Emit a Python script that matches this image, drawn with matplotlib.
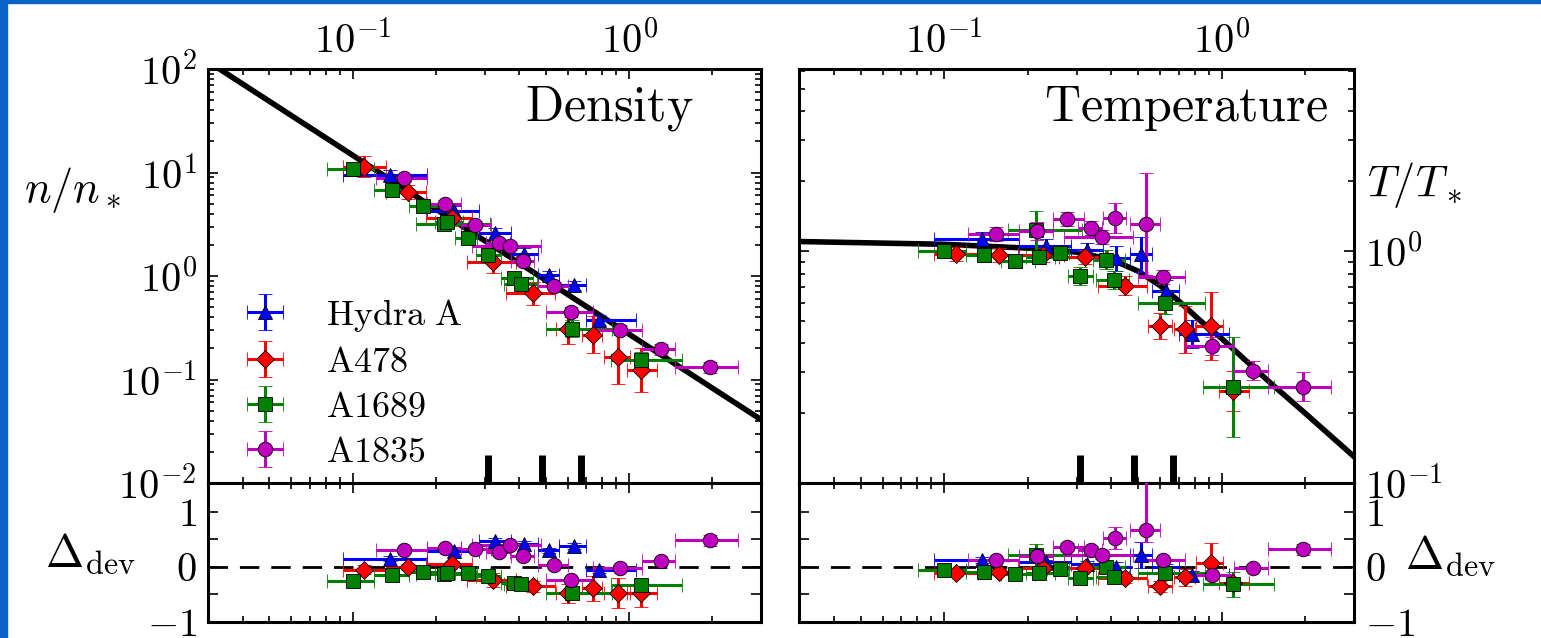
import matplotlib
matplotlib.use('Agg')
import matplotlib.pyplot as plt
import numpy as np
from matplotlib.ticker import FixedLocator, FuncFormatter, NullFormatter
from matplotlib.patches import Rectangle

plt.rcParams['mathtext.fontset'] = 'cm'
plt.rcParams['font.family'] = 'DejaVu Serif'
plt.rcParams['axes.linewidth'] = 2.2

# ---- data ----
# Hydra A (blue triangles)
hyd_x = [0.137, 0.233, 0.327, 0.418, 0.513, 0.63, 0.78]
hyd_lo = [0.092, 0.186, 0.287, 0.374, 0.468, 0.56, 0.70]
hyd_hi = [0.186, 0.287, 0.374, 0.468, 0.56, 0.70, 1.06]
hyd_n = [9.5, 4.2, 2.58, 1.62, 1.02, 0.81, 0.376]
hyd_n_dex = [0.05, 0.05, 0.05, 0.06, 0.04, 0.04, 0.05]
hyd_T = [1.13, 1.05, 1.01, 0.93, 0.97, 0.67, 0.44]
hyd_T_dex = [0.03, 0.03, 0.03, 0.054, 0.075, 0.05, 0.06]
hyd_dn = [0.15, 0.29, 0.47, 0.42, 0.30, 0.38, -0.06]
hyd_dn_err = [0.05, 0.05, 0.05, 0.05, 0.05, 0.05, 0.05]
hyd_dT = [0.12, 0.08, 0.06, 0.0, 0.21, 0.0, -0.15]
hyd_dT_err = [0.05, 0.05, 0.05, 0.08, 0.24, 0.06, 0.08]

# A478 (red diamonds)
a478_x = [0.11, 0.158, 0.228, 0.321, 0.45, 0.60, 0.74, 0.915, 1.10]
a478_lo = [0.092, 0.132, 0.185, 0.26, 0.36, 0.545, 0.675, 0.81, 0.98]
a478_hi = [0.132, 0.185, 0.27, 0.39, 0.54, 0.66, 0.80, 1.01, 1.26]
a478_n = [11.4, 6.5, 3.6, 1.37, 0.68, 0.31, 0.27, 0.166, 0.124]
a478_n_dex = [0.1, 0.07, 0.07, 0.11, 0.11, 0.15, 0.18, 0.26, 0.21]
a478_T = [0.975, 0.96, 0.96, 0.94, 0.71, 0.475, 0.46, 0.475, 0.25]
a478_T_dex = [0.03, 0.03, 0.03, 0.03, 0.04, 0.057, 0.1, 0.145, 0.086]
a478_dn = [-0.05, 0.0, 0.05, -0.24, -0.35, -0.48, -0.39, -0.47, -0.48]
a478_dn_err = [0.08, 0.06, 0.06, 0.12, 0.1, 0.17, 0.23, 0.27, 0.24]
a478_dT = [-0.12, -0.09, -0.03, -0.03, -0.21, -0.35, -0.19, 0.07, -0.3]
a478_dT_err = [0.05, 0.05, 0.05, 0.05, 0.08, 0.1, 0.15, 0.36, 0.1]

# A1689 (green squares)
a1689_x = [0.1, 0.139, 0.18, 0.215, 0.22, 0.261, 0.31, 0.383, 0.408, 0.623, 1.10]
a1689_lo = [0.0805, 0.12, 0.16, 0.17, 0.198, 0.234, 0.279, 0.343, 0.354, 0.5, 0.86]
a1689_hi = [0.12, 0.16, 0.213, 0.315, 0.25, 0.283, 0.343, 0.45, 0.465, 0.87, 1.55]
a1689_n = [10.7, 6.8, 4.7, 3.2, 3.35, 2.35, 1.6, 0.95, 0.84, 0.31, 0.155]
a1689_n_dex = [0.04, 0.04, 0.04, 0.05, 0.04, 0.04, 0.05, 0.05, 0.05, 0.08, 0.08]
a1689_T = [1.0, 0.96, 0.91, 1.23, 0.94, 0.98, 0.78, 0.92, 0.75, 0.6, 0.26]
a1689_T_dex = [0.03, 0.03, 0.03, 0.085, 0.03, 0.03, 0.04, 0.04, 0.04, 0.05, 0.215]
a1689_dn = [-0.26, -0.15, -0.09, -0.13, -0.11, -0.12, -0.17, -0.29, -0.32, -0.47, -0.33]
a1689_dn_err = [0.05, 0.05, 0.05, 0.05, 0.05, 0.05, 0.05, 0.05, 0.05, 0.08, 0.1]
a1689_dT = [-0.06, -0.09, -0.13, 0.21, -0.12, -0.04, -0.21, 0.0, -0.19, -0.12, -0.32]
a1689_dT_err = [0.05, 0.05, 0.05, 0.2, 0.05, 0.05, 0.05, 0.06, 0.06, 0.08, 0.23]

# A1835 (magenta circles)
a1835_x = [0.154, 0.216, 0.277, 0.339, 0.37, 0.412, 0.533, 0.615, 0.925, 1.30, 1.97]
a1835_lo = [0.122, 0.186, 0.246, 0.305, 0.27, 0.374, 0.468, 0.50, 0.74, 1.11, 1.47]
a1835_hi = [0.186, 0.246, 0.318, 0.37, 0.48, 0.454, 0.60, 0.74, 1.11, 1.47, 2.48]
a1835_n = [8.8, 5.0, 3.1, 2.1, 1.95, 1.41, 0.8, 0.45, 0.30, 0.195, 0.131]
a1835_n_dex = [0.04, 0.04, 0.04, 0.04, 0.04, 0.04, 0.04, 0.05, 0.05, 0.05, 0.05]
a1835_T = [1.18, 1.22, 1.38, 1.26, 1.15, 1.39, 1.31, 0.77, 0.39, 0.305, 0.26]
a1835_T_dex = [0.03, 0.04, 0.03, 0.03, 0.03, 0.066, 0.22, 0.03, 0.04, 0.04, 0.063]
a1835_dn = [0.30, 0.35, 0.33, 0.27, 0.39, 0.19, 0.04, -0.24, -0.02, 0.10, 0.48]
a1835_dn_err = [0.05, 0.05, 0.05, 0.05, 0.05, 0.05, 0.05, 0.05, 0.05, 0.05, 0.1]
a1835_dT = [0.13, 0.19, 0.36, 0.30, 0.21, 0.52, 0.67, 0.12, -0.15, -0.02, 0.32]
a1835_dT_lo = [0.05, 0.08, 0.07, 0.08, 0.07, 0.2, 0.22, 0.06, 0.06, 0.06, 0.1]
a1835_dT_hi = [0.05, 0.08, 0.07, 0.08, 0.07, 0.2, 1.0, 0.06, 0.06, 0.06, 0.1]

# model curves
n_fit_x = [0.03, 3.0]
n_fit_y = [118, 0.041]
T_fit_x = [0.03, 0.1, 0.2, 0.3, 0.4, 0.5, 0.6, 0.7, 0.84, 1.0, 1.5, 2.0, 3.0]
T_fit_y = [1.10, 1.07, 1.03, 0.99, 0.92, 0.82, 0.71, 0.61, 0.50, 0.42, 0.27, 0.20, 0.13]

# radius markers at the bottom of the top panels
r_marks = [0.31, 0.485, 0.67]

W, H = 1541, 638
fig = plt.figure(figsize=(W / 100, H / 100), dpi=100)

# slide background strips
fig.patches.append(Rectangle((0, 1 - 3 / H), 1, 3 / H, transform=fig.transFigure,
                             color='#0a64c8', zorder=0))
fig.patches.append(Rectangle((0, 0), 7 / W, 1, transform=fig.transFigure,
                             color='#0a64c8', zorder=0))

axL = fig.add_axes([208 / W, 1 - 483 / H, 553 / W, 414 / H])
axLr = fig.add_axes([208 / W, 1 - 622 / H, 553 / W, 139 / H])
axR = fig.add_axes([799 / W, 1 - 483 / H, 555 / W, 414 / H])
axRr = fig.add_axes([799 / W, 1 - 622 / H, 555 / W, 139 / H])

series = [
    ('Hydra\\ A', 'b', '^', 10, hyd_x, hyd_lo, hyd_hi, hyd_n, hyd_n_dex, hyd_T, hyd_T_dex,
     hyd_dn, hyd_dn_err, hyd_dT, [hyd_dT_err, hyd_dT_err]),
    ('A478', 'r', 'D', 9.5, a478_x, a478_lo, a478_hi, a478_n, a478_n_dex, a478_T, a478_T_dex,
     a478_dn, a478_dn_err, a478_dT, [a478_dT_err, a478_dT_err]),
    ('A1689', 'g', 's', 10, a1689_x, a1689_lo, a1689_hi, a1689_n, a1689_n_dex, a1689_T, a1689_T_dex,
     a1689_dn, a1689_dn_err, a1689_dT, [a1689_dT_err, a1689_dT_err]),
    ('A1835', 'm', 'o', 10.5, a1835_x, a1835_lo, a1835_hi, a1835_n, a1835_n_dex, a1835_T, a1835_T_dex,
     a1835_dn, a1835_dn_err, a1835_dT, [a1835_dT_lo, a1835_dT_hi]),
]

colors = {'b': '#0000ff', 'r': '#ff0000', 'g': '#008000', 'm': '#bf00bf'}
eb_kw = dict(mec='k', mew=0.6, elinewidth=2.2, capsize=5, capthick=1, zorder=3)

for lab, c, mk, ms, x, lo, hi, n, ndex, T, Tdex, dn, dnerr, dT, dTerr in series:
    x = np.array(x)
    xerr = [x - np.array(lo), np.array(hi) - x]
    n = np.array(n)
    T = np.array(T)
    nd = np.array(ndex)
    Td = np.array(Tdex)
    col = colors[c]
    axL.errorbar(x, n, xerr=xerr, yerr=[n - n / 10 ** nd, n * 10 ** nd - n], fmt=mk, ms=ms,
                 color=col, label=r'$\mathrm{%s}$' % lab, **eb_kw)
    axR.errorbar(x, T, xerr=xerr, yerr=[T - T / 10 ** Td, T * 10 ** Td - T], fmt=mk, ms=ms,
                 color=col, **eb_kw)
    axLr.errorbar(x, dn, xerr=xerr, yerr=dnerr, fmt=mk, ms=ms, color=col, **eb_kw)
    axRr.errorbar(x, dT, xerr=xerr, yerr=dTerr, fmt=mk, ms=ms, color=col, **eb_kw)

axL.plot(n_fit_x, n_fit_y, color='k', lw=4, zorder=2.5)
axR.plot(T_fit_x, T_fit_y, color='k', lw=4, zorder=2.5)

for ax in (axL, axR):
    ax.vlines(r_marks, 0, 0.068, transform=ax.get_xaxis_transform(), colors='k', lw=5)
for ax in (axLr, axRr):
    ax.axhline(0, color='k', lw=2, ls=(0, (7, 4.3)), zorder=1)

decade = FuncFormatter(lambda v, p: r'$10^{%d}$' % int(round(np.log10(v))))
integer = FuncFormatter(lambda v, p: (r'$%d$' % int(round(v))) if abs(v - round(v)) < 1e-6 else '')

for ax in (axL, axR, axLr, axRr):
    ax.set_xscale('log')
    ax.set_xlim(0.03, 3.0)
    ax.tick_params(which='both', direction='in', top=True, bottom=True, left=True, right=True,
                   width=1.2, labelsize=29)
    ax.tick_params(which='major', length=7)
    ax.tick_params(which='minor', length=4)
    ax.xaxis.set_major_formatter(decade)
    ax.xaxis.set_minor_formatter(NullFormatter())

for ax in (axL, axR):
    ax.set_yscale('log')
    ax.tick_params(labelbottom=False, labeltop=True, pad=6)
    ax.yaxis.set_major_formatter(decade)
    ax.yaxis.set_minor_formatter(NullFormatter())

axL.set_ylim(0.01, 100)
axR.set_ylim(0.1, 6.1)
axL.tick_params(axis='y', labelleft=True, labelright=False, pad=8)
axR.tick_params(axis='y', labelleft=False, labelright=True, pad=8)

for ax in (axLr, axRr):
    ax.set_ylim(-1, 1.52)
    ax.yaxis.set_major_locator(FixedLocator([-1, -0.5, 0, 0.5, 1]))
    ax.yaxis.set_major_formatter(integer)
    ax.tick_params(axis='x', labelbottom=False, labeltop=False)
axLr.tick_params(axis='y', labelleft=True, labelright=False, pad=8)
axRr.tick_params(axis='y', labelleft=False, labelright=True, pad=8)

axL.text(0.877, 0.905, r'$\mathrm{Density}$', transform=axL.transAxes, ha='right', va='center',
         fontsize=36)
axR.text(0.953, 0.905, r'$\mathrm{Temperature}$', transform=axR.transAxes, ha='right', va='center',
         fontsize=36)

axL.legend(loc='lower left', bbox_to_anchor=(0.07, 0.035), frameon=False, fontsize=26,
           handlelength=1.0, handletextpad=1.2, labelspacing=0.3, borderpad=0,
           borderaxespad=0, numpoints=1)

fig.text(72 / W, 1 - 190 / H, r'$n/n_*$', ha='center', va='center', fontsize=32)
fig.text(1415 / W, 1 - 185 / H, r'$T/T_*$', ha='center', va='center', fontsize=32)
fig.text(90 / W, 1 - 555 / H, r'$\Delta_{\rm dev}$', ha='center', va='center', fontsize=33)
fig.text(1450 / W, 1 - 557 / H, r'$\Delta_{\rm dev}$', ha='center', va='center', fontsize=33)

fig.savefig('out.png', dpi=100)
